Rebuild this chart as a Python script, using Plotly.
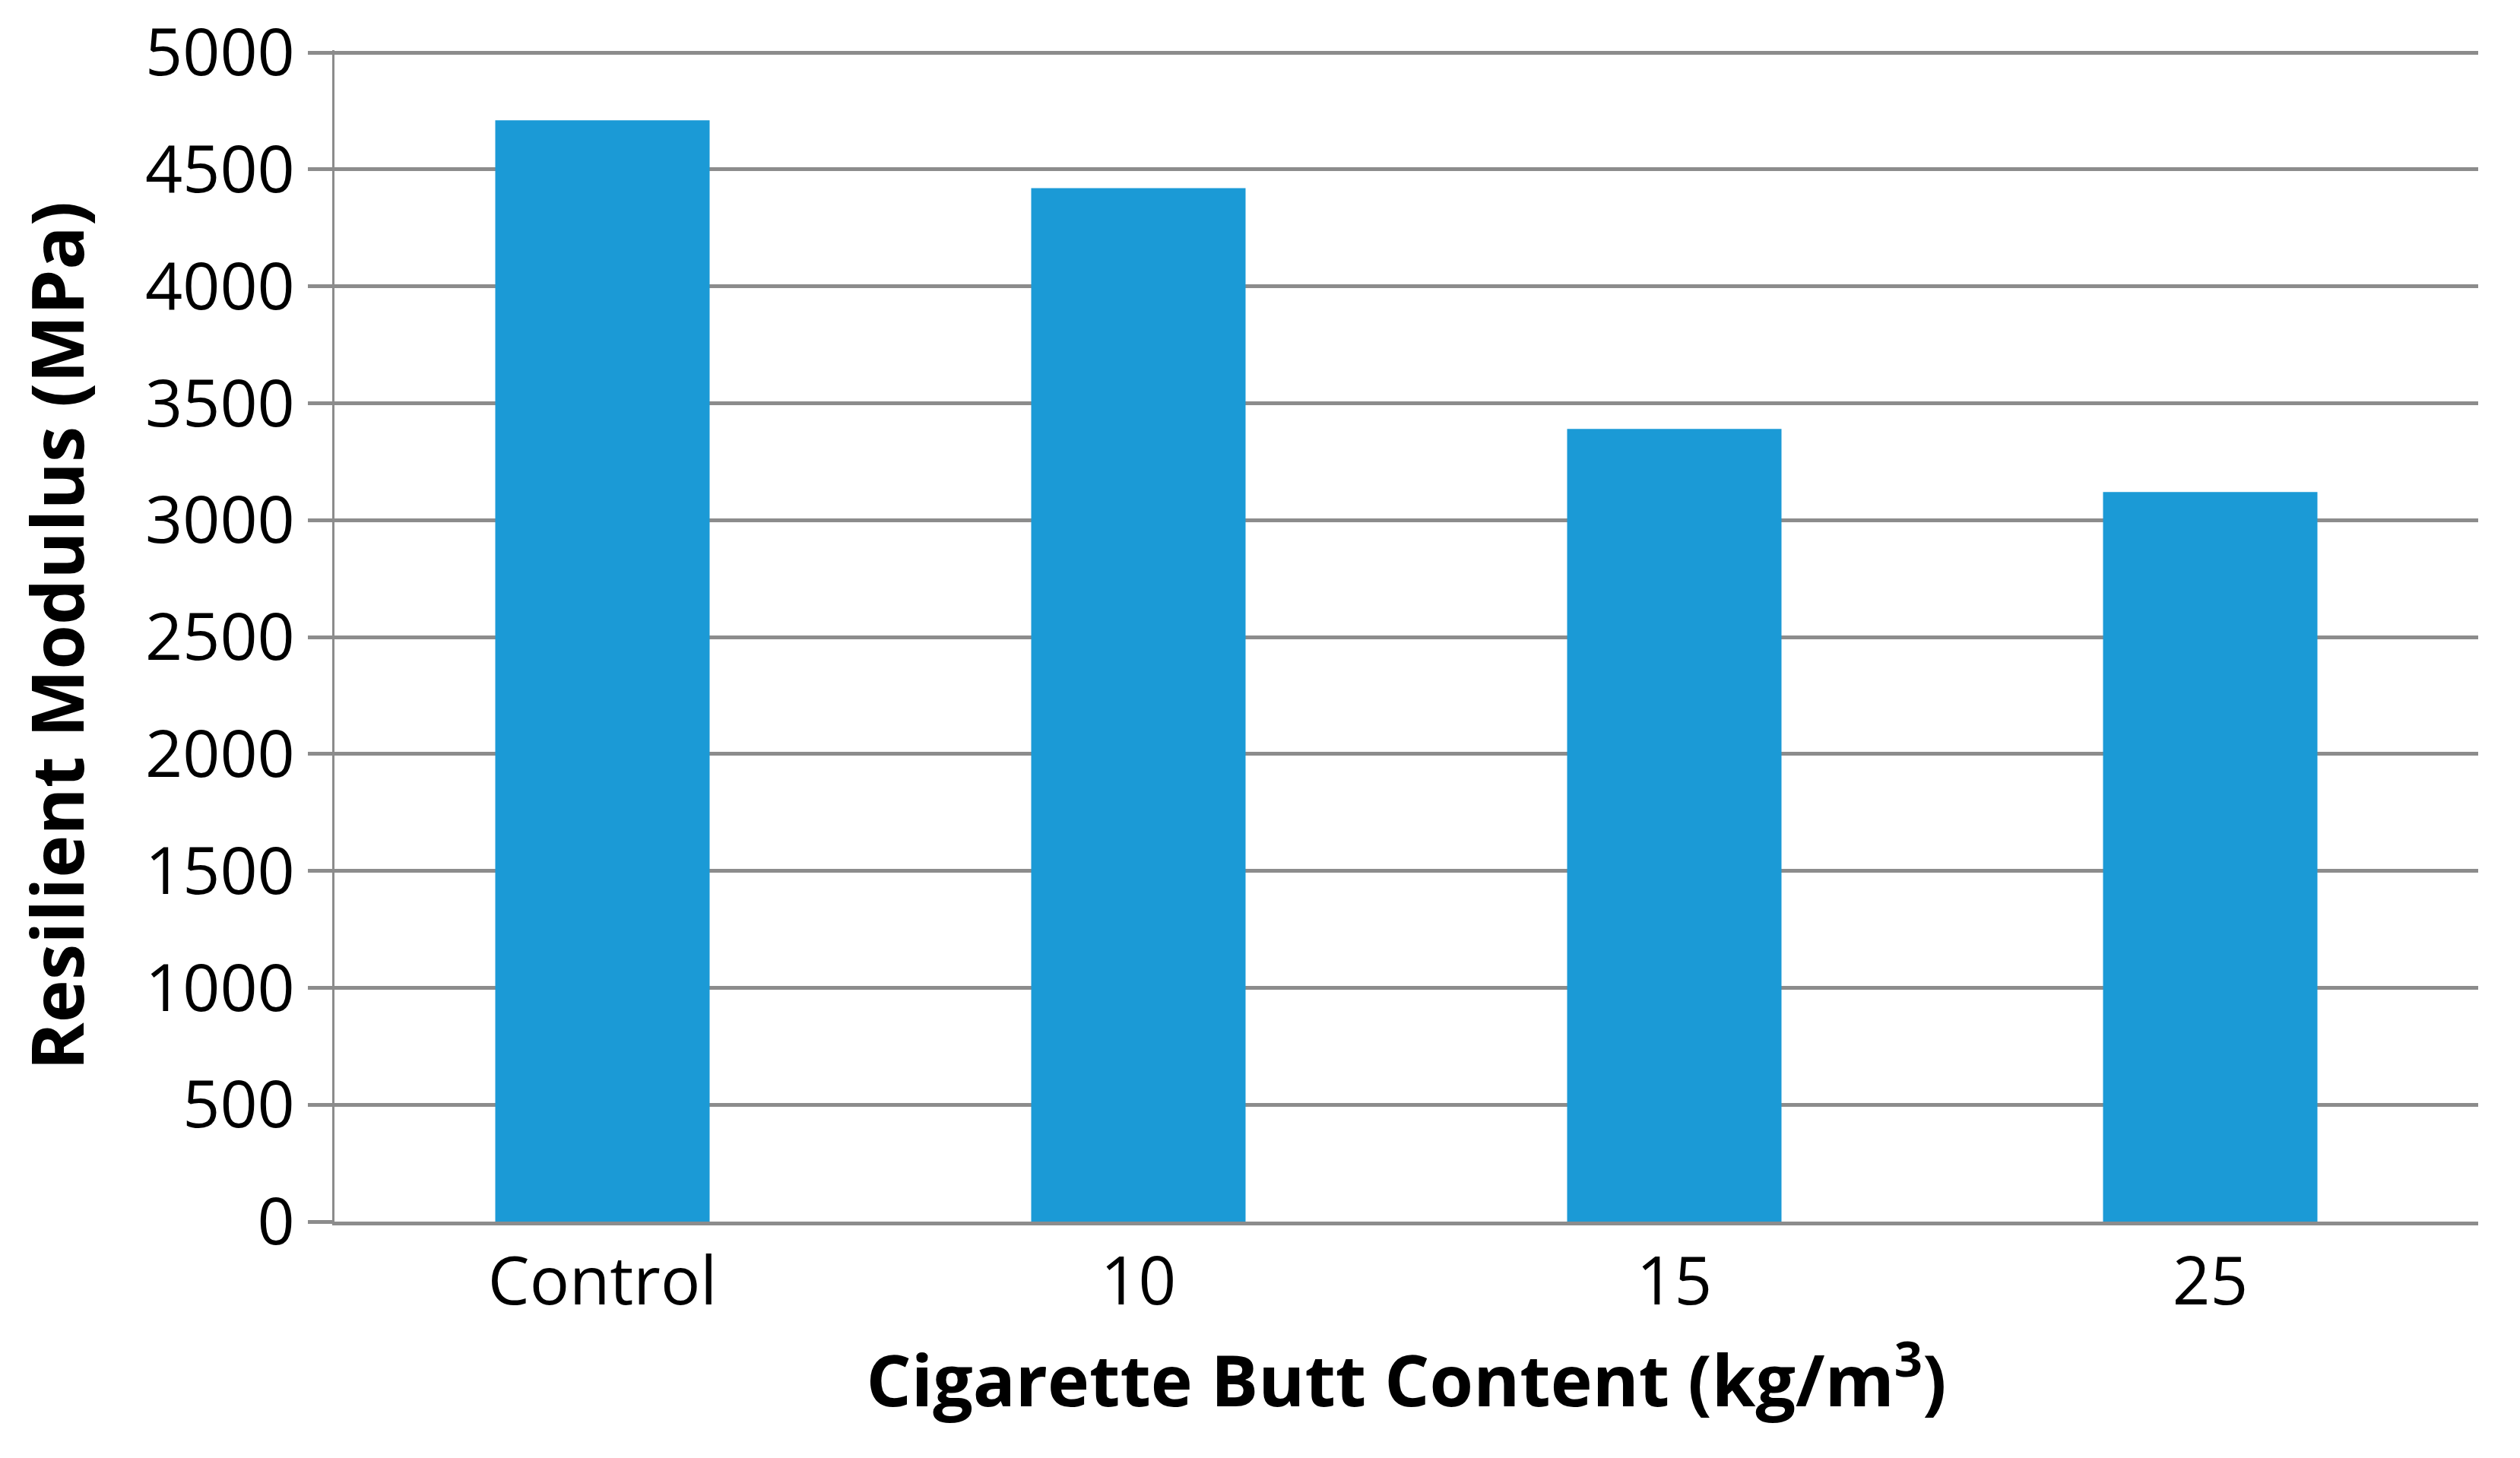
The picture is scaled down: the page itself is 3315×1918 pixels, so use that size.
import plotly.graph_objects as go

categories = ["Control", "10", "15", "25"]
modulus = [4710, 4420, 3390, 3120]
y_ticks = [0, 500, 1000, 1500, 2000, 2500, 3000, 3500, 4000, 4500, 5000]

BAR_COLOR = "#1B9AD6"
GRID_COLOR = "#8C8C8C"
FONT = "Open Sans"


def main():
    fig = go.Figure()
    fig.add_trace(go.Bar(
        x=categories,
        y=modulus,
        width=0.4,
        marker=dict(color=BAR_COLOR, line=dict(width=0)),
        showlegend=False,
    ))

    # page body adds an 8px offset, margins account for it
    fig.update_layout(
        width=3315,
        height=1918,
        paper_bgcolor="white",
        plot_bgcolor="white",
        margin=dict(l=432, r=63, t=58, b=319),
        font=dict(family=FONT, color="black", size=86),
        bargap=0.6,
    )

    fig.update_xaxes(
        automargin=False,
        showgrid=False,
        showline=True,
        linecolor=GRID_COLOR,
        linewidth=5,
        ticks="",
        tickfont=dict(size=87),
        title=dict(
            text="<b>Cigarette Butt Content (kg/m<sup>3</sup>)</b>",
            font=dict(size=93),
            standoff=40,
        ),
    )

    fig.update_yaxes(
        automargin=False,
        range=[0, 5010],
        tickvals=y_ticks,
        ticklabeloverflow="allow",
        showgrid=True,
        gridcolor=GRID_COLOR,
        gridwidth=5,
        showline=True,
        linecolor=GRID_COLOR,
        linewidth=3,
        ticks="outside",
        ticklen=32,
        tickwidth=5,
        tickcolor=GRID_COLOR,
        zeroline=False,
        tickfont=dict(size=86),
        title=dict(
            text="<b>Resilient Modulus (MPa)</b>",
            font=dict(size=95),
            standoff=52,
        ),
    )

    fig.write_html("out.html")


if __name__ == "__main__":
    main()
